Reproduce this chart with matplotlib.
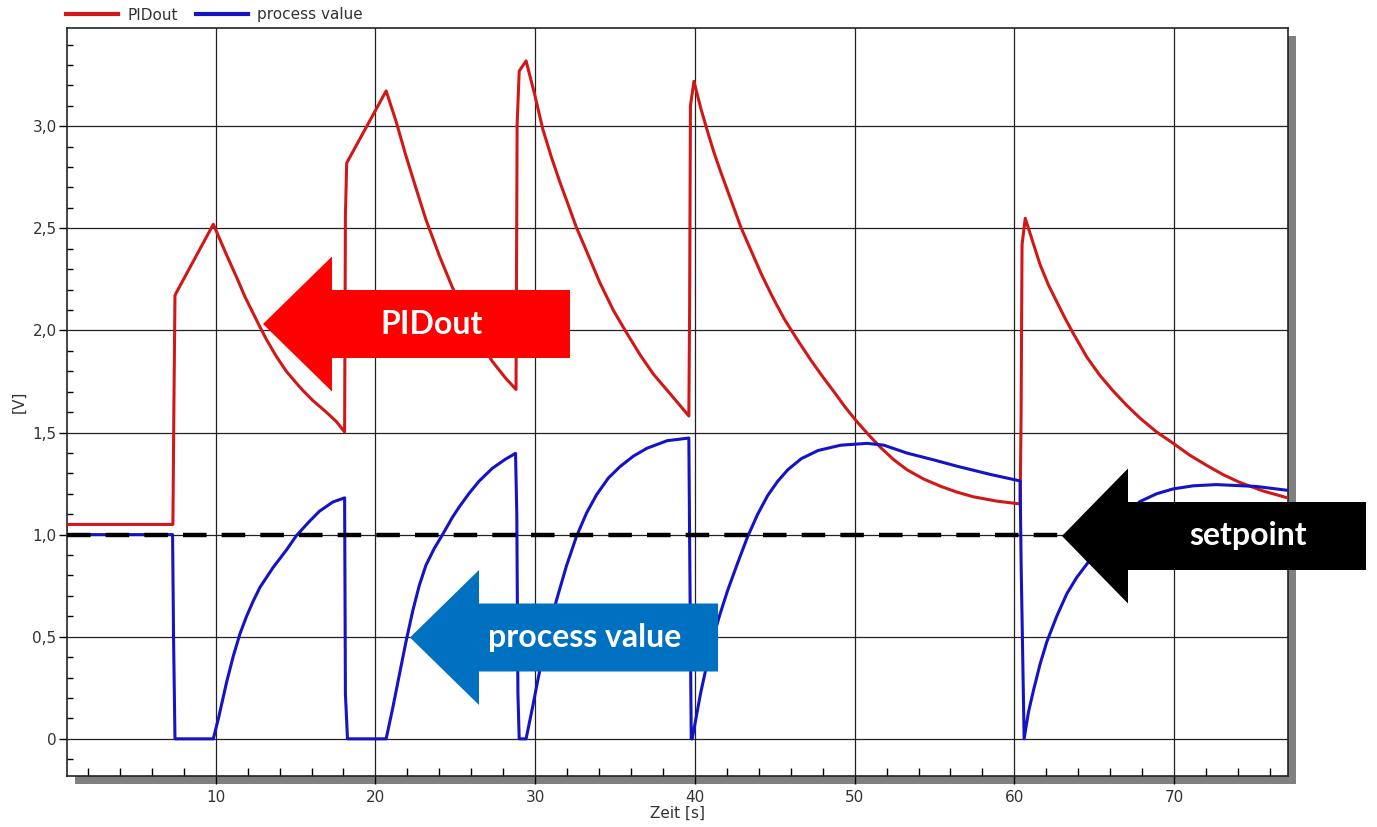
import numpy as np
import matplotlib
matplotlib.use('Agg')
import matplotlib.pyplot as plt
from matplotlib.patches import Polygon, Rectangle
from matplotlib.ticker import FixedLocator, MultipleLocator

# PID controller step responses
t_pid = [0.7, 7.32, 7.38, 7.45, 7.5, 9.85,
         10.27, 10.69, 11.31, 11.83, 12.35, 12.77, 13.18, 13.8, 14.43, 15.05, 15.47,
         16.09, 16.92, 17.55, 18.07, 18.12, 18.2, 20.67,
         21.29, 21.91, 22.54, 23.16, 23.99, 24.82, 25.65, 26.49, 27.32, 28.15, 28.8,
         28.87, 29.0, 29.43,
         29.96, 30.48, 31.01, 31.53, 32.06, 32.58, 33.32, 34.05, 34.89, 35.74, 36.58,
         37.42, 38.47, 39.62, 39.67, 39.72, 39.94,
         40.36, 40.78, 41.2, 41.62, 42.25, 42.88, 43.51, 44.14, 44.87, 45.61, 46.45,
         47.29, 48.03, 48.76, 49.39, 50.08, 50.86, 51.62, 52.46, 53.29, 54.33, 55.37,
         56.41, 57.45, 58.91, 60.36, 60.42, 60.48, 60.68,
         61.09, 61.61, 62.13, 62.65, 63.17, 63.69, 64.53, 65.36, 66.19, 67.02, 67.86,
         68.9, 70.0, 70.98, 72.02, 73.06, 74.1, 75.56, 77.1]
pid_out = [1.05, 1.05, 1.61, 2.17, 2.18, 2.52,
           2.444, 2.368, 2.26, 2.165, 2.083, 2.017, 1.955, 1.872, 1.799, 1.742, 1.705,
           1.656, 1.600, 1.554, 1.503, 2.56, 2.82, 3.173,
           3.024, 2.855, 2.696, 2.543, 2.368, 2.210, 2.072, 1.952, 1.848, 1.766, 1.711,
           3.01, 3.27, 3.32,
           3.158, 2.985, 2.850, 2.73, 2.617, 2.505, 2.369, 2.234, 2.099, 1.986, 1.879,
           1.784, 1.688, 1.581, 2.13, 3.10, 3.22,
           3.09, 2.977, 2.870, 2.775, 2.64, 2.505, 2.392, 2.279, 2.162, 2.054, 1.950,
           1.851, 1.770, 1.694, 1.626, 1.559, 1.490, 1.427, 1.366, 1.317, 1.272, 1.237,
           1.208, 1.185, 1.164, 1.15, 1.58, 2.42, 2.549,
           2.449, 2.322, 2.223, 2.141, 2.06, 1.985, 1.87, 1.779, 1.703, 1.634, 1.571,
           1.503, 1.444, 1.389, 1.340, 1.294, 1.256, 1.214, 1.18]

t_pv = [0.7, 7.3, 7.36, 7.45, 9.85,
        10.17, 10.69, 11.1, 11.52, 11.93, 12.35, 12.77, 13.6, 14.43, 15.05, 15.88,
        16.5, 17.34, 18.07, 18.12, 18.25, 20.67,
        21.08, 21.5, 21.91, 22.33, 22.74, 23.16, 23.68, 24.2, 24.82, 25.24, 25.86,
        26.49, 27.32, 28.15, 28.77, 28.85, 28.92, 29.0, 29.43,
        29.85, 30.17, 30.48, 30.9, 31.32, 31.95, 32.58, 33.21, 33.84, 34.58, 35.31,
        36.16, 37.0, 38.26, 39.62, 39.67, 39.77, 39.83,
        40.36, 40.99, 41.51, 42.04, 42.67, 43.3, 43.93, 44.56, 45.19, 45.82, 46.66,
        47.71, 49.13, 50.79, 51.83, 53.29, 54.95, 56.41, 58.49, 60.36, 60.42, 60.61,
        60.88, 61.2, 61.61, 62.03, 62.65, 63.28, 63.9, 64.53, 65.6, 66.7, 67.86,
        68.9, 69.94, 71.19, 72.64, 75.14, 77.1]
process_value = [1.0, 1.0, 0.5, 0.0, 0.0,
                 0.10, 0.28, 0.405, 0.515, 0.600, 0.675, 0.742, 0.840, 0.925, 0.995, 1.066,
                 1.115, 1.16, 1.18, 0.22, 0.0, 0.0,
                 0.15, 0.315, 0.475, 0.625, 0.75, 0.850, 0.932, 1.0, 1.085, 1.135, 1.202,
                 1.262, 1.325, 1.370, 1.398, 1.10, 0.22, 0.0, 0.0,
                 0.16, 0.29, 0.405, 0.545, 0.675, 0.845, 0.99, 1.105, 1.195, 1.277, 1.333,
                 1.385, 1.423, 1.460, 1.473, 0.96, 0.0, 0.0,
                 0.225, 0.450, 0.595, 0.725, 0.86, 0.99, 1.100, 1.192, 1.262, 1.318, 1.372,
                 1.412, 1.438, 1.447, 1.438, 1.399, 1.366, 1.335, 1.295, 1.263, 0.87, 0.0,
                 0.13, 0.239, 0.366, 0.475, 0.60, 0.71, 0.79, 0.855, 0.97, 1.08, 1.162,
                 1.2, 1.224, 1.239, 1.245, 1.236, 1.217]

setpoint = 1.0

x_ticks = [10, 20, 30, 40, 50, 60, 70]
y_ticks = [0, 0.5, 1.0, 1.5, 2.0, 2.5, 3.0]
y_tick_labels = ['0', '0,5', '1,0', '1,5', '2,0', '2,5', '3,0']

W, H = 1377, 827
fig = plt.figure(figsize=(W / 100, H / 100), dpi=100)


def fx(px):
    return px / W


def fy(py):
    return 1 - py / H


# axes box in pixels
L, R, T, B = 67, 1288, 28, 776

# drop shadow behind the plot area
fig.patches.append(Rectangle((fx(L + 8), fy(B + 8)), (R - L) / W, (B - T) / H,
                             transform=fig.transFigure, facecolor='#808080',
                             edgecolor='none', zorder=-5))

ax = fig.add_axes([fx(L), fy(B), (R - L) / W, (B - T) / H])
ax.set_facecolor('white')
ax.set_zorder(1)

txt_col = '#333333'

ax.plot(t_pid, pid_out, color='#d01818', lw=2.2, label='PIDout', zorder=3)
ax.plot(t_pv, process_value, color='#1414c4', lw=2.2, label='process value', zorder=3)
ax.axhline(setpoint, color='black', lw=3.2, dashes=(5.3, 3.4), zorder=4)

ax.set_xlim(0.69, 77.13)
ax.set_ylim(-0.182, 3.481)

ax.xaxis.set_major_locator(FixedLocator(x_ticks))
ax.xaxis.set_minor_locator(MultipleLocator(2))
ax.yaxis.set_major_locator(FixedLocator(y_ticks))
ax.set_yticklabels(y_tick_labels)
ax.yaxis.set_minor_locator(MultipleLocator(0.1))

ax.grid(True, which='major', color='#222222', lw=0.9, zorder=1)
ax.set_axisbelow(True)

ax.tick_params(axis='x', which='major', direction='out', length=6, width=1,
               labelsize=11, labelcolor=txt_col, pad=4)
ax.tick_params(axis='x', which='minor', direction='in', length=6, width=1)
ax.tick_params(axis='y', which='major', direction='out', length=6, width=1,
               labelsize=11, labelcolor=txt_col, pad=1.5)
ax.tick_params(axis='y', which='minor', direction='in', length=4.5, width=1)

for s in ax.spines.values():
    s.set_color('#222222')
    s.set_linewidth(1.2)

ax.set_xlabel('Zeit [s]', fontsize=11, color=txt_col, labelpad=1)
ax.set_ylabel('[V]', fontsize=11, color=txt_col, labelpad=4)

leg = ax.legend(loc='center left', bbox_to_anchor=(fx(66), fy(15)),
                bbox_transform=fig.transFigure, ncol=2, frameon=False,
                fontsize=11, handlelength=3.4, handletextpad=0.6,
                columnspacing=1.2, borderpad=0, borderaxespad=0)
for line in leg.get_lines():
    line.set_linewidth(3)
for t in leg.get_texts():
    t.set_color(txt_col)


def block_arrow(tip_x, back_x, right_x, cy, color, label, text_x):
    head_half, shaft_half = 67.5, 34
    pts = [(tip_x, cy), (back_x, cy - head_half), (back_x, cy - shaft_half),
           (right_x, cy - shaft_half), (right_x, cy + shaft_half),
           (back_x, cy + shaft_half), (back_x, cy + head_half)]
    poly = Polygon([(fx(x), fy(y)) for x, y in pts], closed=True,
                   transform=fig.transFigure, facecolor=color, edgecolor='none',
                   zorder=10)
    fig.patches.append(poly)
    fig.text(fx(text_x), fy(cy), label, color='white', fontsize=23,
             fontweight='bold', family=['Lato', 'DejaVu Sans'],
             ha='center', va='center', zorder=11)


block_arrow(263, 332, 570, 324, '#ff0000', 'PIDout', 432)
block_arrow(410, 479, 718, 637.5, '#0070c0', 'process value', 584.5)
block_arrow(1062, 1128, 1366, 536, '#000000', 'setpoint', 1248.5)

fig.savefig('out.png', dpi=100)
